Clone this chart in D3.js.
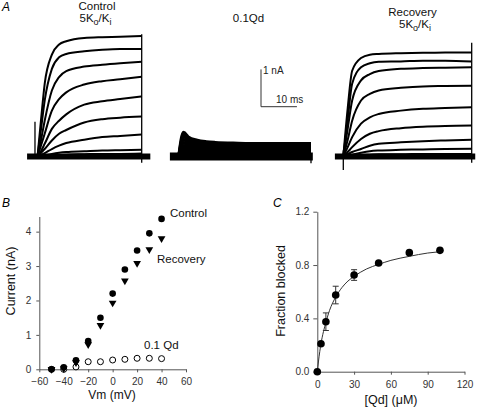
<!DOCTYPE html>
<html><head><meta charset="utf-8">
<script src="https://cdn.jsdelivr.net/npm/d3@7"></script>
<style>
html,body{margin:0;padding:0;background:#fff;}
svg{display:block;font-family:"Liberation Sans",Arial,sans-serif;}
</style></head>
<body>
<svg id="fig" width="480" height="407"></svg>
<script>
// ---------- DATA ----------
// Panel A: current traces (nA) sampled at these times (ms)
const traceTimes = [0, 1, 2, 4, 6, 8, 13, 18, 23, 29];
const controlTraces = [
  [0, 1.0, 1.95, 2.73, 3.0, 3.09, 3.18, 3.2, 3.21, 3.23],
  [0, 0.75, 1.5, 2.35, 2.66, 2.75, 2.82, 2.86, 2.88, 2.88],
  [0, 0.45, 0.96, 1.77, 2.13, 2.29, 2.41, 2.46, 2.5, 2.54],
  [0, 0.3, 0.61, 1.23, 1.54, 1.72, 1.93, 2.02, 2.07, 2.14],
  [0, 0.15, 0.34, 0.74, 0.96, 1.13, 1.39, 1.48, 1.54, 1.61],
  [0, 0.1, 0.2, 0.43, 0.61, 0.71, 0.91, 1.0, 1.04, 1.07],
  [0, 0.04, 0.09, 0.2, 0.29, 0.36, 0.45, 0.52, 0.55, 0.59],
  [0, 0.01, 0.03, 0.07, 0.1, 0.12, 0.14, 0.16, 0.17, 0.18],
  [0, 0, 0.01, 0.03, 0.04, 0.05, 0.06, 0.07, 0.07, 0.08]
];
const qdTraces = [
  [0, 0.64, 0.52, 0.43, 0.39, 0.37, 0.35, 0.34, 0.34, 0.34],
  [0, 0.54, 0.45, 0.38, 0.35, 0.33, 0.32, 0.31, 0.31, 0.31],
  [0, 0.45, 0.39, 0.34, 0.31, 0.3, 0.29, 0.29, 0.29, 0.29],
  [0, 0.37, 0.33, 0.3, 0.28, 0.27, 0.27, 0.27, 0.26, 0.26],
  [0, 0.29, 0.27, 0.25, 0.24, 0.23, 0.23, 0.23, 0.23, 0.23],
  [0, 0.21, 0.2, 0.19, 0.19, 0.19, 0.18, 0.18, 0.18, 0.18],
  [0, 0.13, 0.13, 0.12, 0.12, 0.12, 0.11, 0.11, 0.11, 0.11],
  [0, 0.06, 0.06, 0.06, 0.06, 0.06, 0.06, 0.06, 0.06, 0.06]
];
const recoveryTraces = [
  [0, 1.3, 2.3, 2.64, 2.73, 2.75, 2.77, 2.78, 2.79, 2.79],
  [0, 1.0, 1.95, 2.39, 2.5, 2.54, 2.55, 2.57, 2.57, 2.55],
  [0, 0.75, 1.5, 2.04, 2.21, 2.29, 2.35, 2.37, 2.38, 2.39],
  [0, 0.45, 0.96, 1.5, 1.68, 1.77, 1.84, 1.88, 1.89, 1.9],
  [0, 0.25, 0.52, 0.88, 1.05, 1.14, 1.23, 1.28, 1.3, 1.32],
  [0, 0.12, 0.25, 0.47, 0.61, 0.68, 0.76, 0.8, 0.82, 0.83],
  [0, 0.06, 0.12, 0.2, 0.29, 0.34, 0.38, 0.41, 0.43, 0.45],
  [0, 0.02, 0.05, 0.1, 0.14, 0.16, 0.18, 0.19, 0.2, 0.21],
  [0, 0, 0.02, 0.04, 0.05, 0.06, 0.06, 0.07, 0.07, 0.07]
];
const scaleBarCurrent = 1;   // nA
const scaleBarTime = 10;     // ms

// Panel B: I-V relation
const vm = [-50, -40, -30, -20, -10, 0, 10, 20, 30, 40];
const ivControl = [0, 0.06, 0.26, 0.82, 1.5, 2.2, 2.9, 3.45, 3.95, 4.37];
const ivRecovery = [0, 0.02, 0.2, 0.72, 1.28, 1.93, 2.57, 3.08, 3.48, 3.8];
const vmQd = [-50, -40, -30, -20, -10, 0, 10, 20, 30, 40];
const ivQd = [0, 0, 0.07, 0.22, 0.22, 0.27, 0.29, 0.32, 0.32, 0.31];
const ivXTicks = [-60, -40, -20, 0, 20, 40, 60];
const ivYTicks = [0, 1, 2, 3, 4];

// Panel C: dose response
const qdConc = [0, 3, 7, 15, 30, 50, 75, 100];
const fracBlocked = [0, 0.21, 0.375, 0.575, 0.725, 0.815, 0.893, 0.91];
const fracErr = [0, 0.015, 0.066, 0.066, 0.04, 0.015, 0.012, 0.012];
const fitConc = [0, 1, 2, 3, 5, 7, 10, 15, 20, 25, 30, 40, 50, 60, 75, 90, 100];
const fitFrac = [0, 0.08, 0.15, 0.21, 0.3, 0.37, 0.46, 0.56, 0.63, 0.68, 0.715, 0.77, 0.805, 0.835, 0.865, 0.89, 0.9];
const doseXTicks = [0, 30, 60, 90, 120];
const doseYTicks = [0, 0.4, 0.8, 1.2];

// ---------- DRAW ----------
const svg = d3.select("#fig");
svg.append("rect").attr("width", 480).attr("height", 407).attr("fill", "#fff");

// ---- Panel A ----
const yA = d3.scaleLinear().domain([0, 1]).range([156.5, 119.2]);
const panels = [
  {traces: controlTraces, x: d3.scaleLinear().domain([0, 29]).range([37.5, 141.7]),
   base: [-2.9, 31.4], tw: 2, bw: 6},
  {traces: qdTraces, x: d3.scaleLinear().domain([0, 29]).range([179, 311]),
   base: [-2, 29.4], tw: 3.6, bw: 8},
  {traces: recoveryTraces, x: d3.scaleLinear().domain([0, 29]).range([343.3, 471.7]),
   base: [-1.9, 29.8], tw: 2, bw: 6}
];
panels.forEach((p, pi) => {
  const g = svg.append("g");
  const line = d3.line().x((d, i) => p.x(traceTimes[i])).y(d => yA(d)).curve(d3.curveMonotoneX);
  // noisy baseline band
  g.append("line").attr("x1", p.x(p.base[0])).attr("x2", p.x(p.base[1]))
    .attr("y1", yA(0)).attr("y2", yA(0)).attr("stroke", "#000").attr("stroke-width", p.bw);
  p.traces.forEach(tr => {
    g.append("path").attr("d", line(tr)).attr("fill", "none")
      .attr("stroke", "#000").attr("stroke-width", p.tw).attr("stroke-linejoin", "round");
  });
});
// transients (capacitive artefacts)
const xL = panels[0].x, xR = panels[2].x, xM = panels[1].x;
svg.append("line").attr("x1", xL(-0.7)).attr("x2", xL(-0.7)).attr("y1", yA(0.93)).attr("y2", yA(-0.04))
  .attr("stroke", "#000").attr("stroke-width", 1.3);
svg.append("line").attr("x1", xL(29)).attr("x2", xL(29)).attr("y1", yA(3.28)).attr("y2", yA(-0.17))
  .attr("stroke", "#000").attr("stroke-width", 1.3);
svg.append("line").attr("x1", xR(0)).attr("x2", xR(0)).attr("y1", yA(0.17)).attr("y2", yA(-0.36))
  .attr("stroke", "#000").attr("stroke-width", 1.3);
svg.append("line").attr("x1", xR(29)).attr("x2", xR(29)).attr("y1", yA(3.05)).attr("y2", yA(-0.17))
  .attr("stroke", "#000").attr("stroke-width", 1.3);
svg.append("line").attr("x1", xM(29)).attr("x2", xM(29)).attr("y1", yA(0)).attr("y2", yA(-0.18))
  .attr("stroke", "#000").attr("stroke-width", 1.3);

// scale bar (uses control panel's scales)
const sbX0 = 261, sbY0 = yA(0) - 49.8;
const sbLen = xL(scaleBarTime) - xL(0);
const sbH = yA(0) - yA(scaleBarCurrent);
svg.append("path")
  .attr("d", `M${sbX0},${sbY0 - sbH}V${sbY0}H${sbX0 + sbLen}`)
  .attr("fill", "none").attr("stroke", "#333").attr("stroke-width", 1);
svg.append("text").attr("x", sbX0 + 2).attr("y", sbY0 - sbH + 4.5).attr("font-size", 10).attr("fill", "#222").text(scaleBarCurrent + " nA");
svg.append("text").attr("x", sbX0 + 15).attr("y", sbY0 - 3.5).attr("font-size", 10).attr("fill", "#222").text(scaleBarTime + " ms");

// panel A titles
function kLabel(x, y) {
  const t = svg.append("text").attr("x", x).attr("y", y).attr("text-anchor", "middle").attr("font-size", 11.5).attr("fill", "#111");
  t.append("tspan").text("5K");
  t.append("tspan").attr("font-size", 9).attr("dy", 3).text("o");
  t.append("tspan").attr("dy", -3).text("/K");
  t.append("tspan").attr("font-size", 9).attr("dy", 3).text("i");
}
svg.append("text").attr("x", 2).attr("y", 10.5).attr("font-size", 12).attr("font-style", "italic").text("A");
svg.append("text").attr("x", 97).attr("y", 10).attr("text-anchor", "middle").attr("font-size", 11.5).attr("fill", "#111").text("Control");
kLabel(95.5, 21.5);
svg.append("text").attr("x", 248.5).attr("y", 22).attr("text-anchor", "middle").attr("font-size", 11.5).attr("fill", "#111").text("0.1Qd");
svg.append("text").attr("x", 412.5).attr("y", 15.5).attr("text-anchor", "middle").attr("font-size", 11.5).attr("fill", "#111").text("Recovery");
kLabel(415, 28);

// ---- Panel B ----
const xB = d3.scaleLinear().domain([-60, 60]).range([39.3, 186]);
const yB = d3.scaleLinear().domain([0, 4.44]).range([369.3, 216.5]);
function styleAxis(g) {
  g.selectAll("path,line").attr("stroke", "#555");
  g.selectAll("text").attr("fill", "#333").attr("font-size", 10).attr("font-family", "Liberation Sans, Arial, sans-serif");
}
svg.append("g").attr("transform", `translate(0,${yB(0)})`)
  .call(d3.axisBottom(xB).tickValues(ivXTicks).tickSize(3).tickSizeOuter(0).tickPadding(6).tickFormat(d3.format("d")))
  .call(styleAxis);
svg.append("g").attr("transform", `translate(${xB(-60)},0)`)
  .call(d3.axisLeft(yB).tickValues(ivYTicks).tickSize(3).tickSizeOuter(0).tickPadding(5).tickFormat(d3.format("d")))
  .call(styleAxis);
// 0.1 Qd open circles
svg.append("g").selectAll("circle").data(vmQd).join("circle")
  .attr("cx", d => xB(d)).attr("cy", (d, i) => yB(ivQd[i])).attr("r", 3)
  .attr("fill", "#fff").attr("stroke", "#000").attr("stroke-width", 1);
// Recovery triangles (down)
const tri = d3.symbol().type(d3.symbolTriangle).size(26);
svg.append("g").selectAll("path").data(vm).join("path")
  .attr("d", tri)
  .attr("transform", (d, i) => `translate(${xB(d)},${yB(ivRecovery[i])}) rotate(180)`)
  .attr("fill", "#000");
// Control filled circles
svg.append("g").selectAll("circle").data(vm).join("circle")
  .attr("cx", d => xB(d)).attr("cy", (d, i) => yB(ivControl[i])).attr("r", 3.3).attr("fill", "#000");
svg.append("text").attr("x", 2).attr("y", 207).attr("font-size", 12).attr("font-style", "italic").text("B");
svg.append("text").attr("x", 170).attr("y", 217).attr("font-size", 11.5).attr("fill", "#111").text("Control");
svg.append("text").attr("x", 157).attr("y", 263).attr("font-size", 11.5).attr("fill", "#111").text("Recovery");
svg.append("text").attr("x", 144).attr("y", 349).attr("font-size", 11.5).attr("fill", "#111").text("0.1 Qd");
svg.append("text").attr("transform", "translate(14.5,281) rotate(-90)").attr("text-anchor", "middle")
  .attr("font-size", 12.5).attr("fill", "#111").text("Current (nA)");
svg.append("text").attr("x", 112).attr("y", 399).attr("text-anchor", "middle")
  .attr("font-size", 12).attr("fill", "#111").text("Vm (mV)");

// ---- Panel C ----
const xC = d3.scaleLinear().domain([0, 120]).range([317.3, 464.5]);
const yC = d3.scaleLinear().domain([0, 1.2]).range([371.7, 211.7]);
svg.append("g").attr("transform", `translate(0,${yC(0)})`)
  .call(d3.axisBottom(xC).tickValues(doseXTicks).tickSize(3).tickSizeOuter(0).tickPadding(6).tickFormat(d3.format("d")))
  .call(styleAxis);
svg.append("g").attr("transform", `translate(${xC(0)},0)`)
  .call(d3.axisLeft(yC).tickValues(doseYTicks).tickSize(4).tickSizeOuter(0).tickPadding(4).tickFormat(d3.format(".1f")))
  .call(styleAxis);
const fitLine = d3.line().x((d, i) => xC(fitConc[i])).y(d => yC(d)).curve(d3.curveMonotoneX);
svg.append("path").attr("d", fitLine(fitFrac)).attr("fill", "none").attr("stroke", "#333").attr("stroke-width", 1);
const eb = svg.append("g").attr("stroke", "#333").attr("stroke-width", 1);
qdConc.forEach((c, i) => {
  if (fracErr[i] < 0.03) return;
  const x = xC(c), y1 = yC(fracBlocked[i] - fracErr[i]), y2 = yC(fracBlocked[i] + fracErr[i]);
  eb.append("line").attr("x1", x).attr("x2", x).attr("y1", y1).attr("y2", y2);
  eb.append("line").attr("x1", x - 3).attr("x2", x + 3).attr("y1", y1).attr("y2", y1);
  eb.append("line").attr("x1", x - 3).attr("x2", x + 3).attr("y1", y2).attr("y2", y2);
});
svg.append("g").selectAll("circle").data(qdConc).join("circle")
  .attr("cx", d => xC(d)).attr("cy", (d, i) => yC(fracBlocked[i])).attr("r", 3.8).attr("fill", "#000");
svg.append("text").attr("x", 273).attr("y", 207).attr("font-size", 12).attr("font-style", "italic").text("C");
svg.append("text").attr("transform", "translate(285,291) rotate(-90)").attr("text-anchor", "middle")
  .attr("font-size", 12.5).attr("fill", "#111").text("Fraction blocked");
const xl = svg.append("text").attr("x", 391).attr("y", 403.5).attr("text-anchor", "middle")
  .attr("font-size", 12.5).attr("fill", "#111");
xl.append("tspan").text("[Qd] (");
xl.append("tspan").text("μ");
xl.append("tspan").text("M)");
</script>
</body></html>
